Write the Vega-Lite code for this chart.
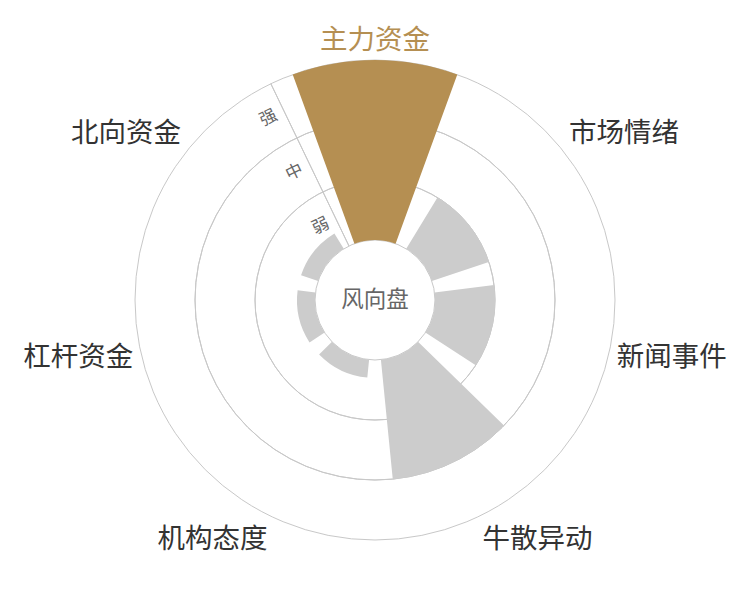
{
  "$schema": "https://vega.github.io/schema/vega-lite/v6.json",
  "width": 750,
  "height": 600,
  "autosize": {"type": "fit", "contains": "padding"},
  "padding": 0,
  "background": "white",
  "config": {"view": {"stroke": null}, "font": "Noto Sans CJK SC", "text": {"font": "Noto Sans CJK SC"}},
  "datasets": {
    "factors": [
      {"factor": "主力资金", "strength": 3},
      {"factor": "市场情绪", "strength": 1},
      {"factor": "新闻事件", "strength": 1},
      {"factor": "牛散异动", "strength": 2},
      {"factor": "机构态度", "strength": 0.3},
      {"factor": "杠杆资金", "strength": 0.3},
      {"factor": "北向资金", "strength": 0.3}
    ],
    "levels": [
      {"level": "弱", "from": 0, "to": 1},
      {"level": "中", "from": 1, "to": 2},
      {"level": "强", "from": 2, "to": 3}
    ],
    "center": [{"title": "风向盘"}]
  },
  "resolve": {"scale": {"radius": "independent"}},
  "layer": [
    {
      "data": {"name": "levels"},
      "mark": {"type": "arc", "theta": 0, "theta2": 6.2832, "fill": "transparent", "stroke": "#c8c8c8", "strokeWidth": 1},
      "encoding": {
        "radius": {"field": "to", "type": "quantitative", "scale": {"type": "linear", "domain": [0, 3], "range": [60, 240], "zero": false}},
        "radius2": {"field": "from"}
      }
    },
    {
      "data": {"name": "levels"},
      "mark": {"type": "arc", "theta": -0.4488, "theta2": -0.4488, "fill": "transparent", "stroke": "#c8c8c8", "strokeWidth": 1},
      "encoding": {
        "radius": {"field": "to", "type": "quantitative", "scale": {"type": "linear", "domain": [0, 3], "range": [60, 240], "zero": false}},
        "radius2": {"field": "from"}
      }
    },
    {
      "data": {"name": "factors"},
      "mark": {"type": "arc"},
      "encoding": {
        "theta": {
          "field": "factor",
          "type": "nominal",
          "scale": {
            "type": "band",
            "domain": ["主力资金", "市场情绪", "新闻事件", "牛散异动", "机构态度", "杠杆资金", "北向资金"],
            "range": [-0.4488, 5.8344],
            "paddingInner": 0.22,
            "paddingOuter": 0.11
          }
        },
        "radius": {"field": "strength", "type": "quantitative", "scale": {"type": "linear", "domain": [0, 3], "range": [60, 240], "zero": false}},
        "radius2": {"datum": 0},
        "color": {"condition": {"test": "datum.factor === '主力资金'", "value": "#b58f52"}, "value": "#cccccc"}
      }
    },
    {
      "data": {"name": "factors"},
      "mark": {
        "type": "text",
        "radius": 248,
        "fontSize": 27.5,
        "dy": 3,
        "align": {"expr": "datum.factor === '主力资金' ? 'center' : (datum.factor === '市场情绪' || datum.factor === '新闻事件' || datum.factor === '牛散异动') ? 'left' : 'right'"},
        "baseline": {"expr": "(datum.factor === '主力资金' || datum.factor === '市场情绪' || datum.factor === '北向资金') ? 'bottom' : (datum.factor === '牛散异动' || datum.factor === '机构态度') ? 'top' : 'middle'"}
      },
      "encoding": {
        "theta": {"field": "factor", "type": "nominal"},
        "text": {"field": "factor"},
        "color": {"condition": {"test": "datum.factor === '主力资金'", "value": "#b58f52"}, "value": "#333333"}
      }
    },
    {
      "data": {"name": "levels"},
      "mark": {"type": "text", "theta": -0.4488, "angle": 334.3, "dx": -17, "fontSize": 17, "color": "#666666", "align": "center", "baseline": "middle"},
      "encoding": {
        "radius": {"field": "level", "type": "nominal", "scale": {"type": "point", "domain": ["弱", "中", "强"], "range": [60, 240], "padding": 0.5}},
        "text": {"field": "level"}
      }
    },
    {
      "data": {"name": "center"},
      "mark": {"type": "text", "fontSize": 22.5, "color": "#666666", "align": "center", "baseline": "middle"},
      "encoding": {"text": {"field": "title"}}
    }
  ]
}
